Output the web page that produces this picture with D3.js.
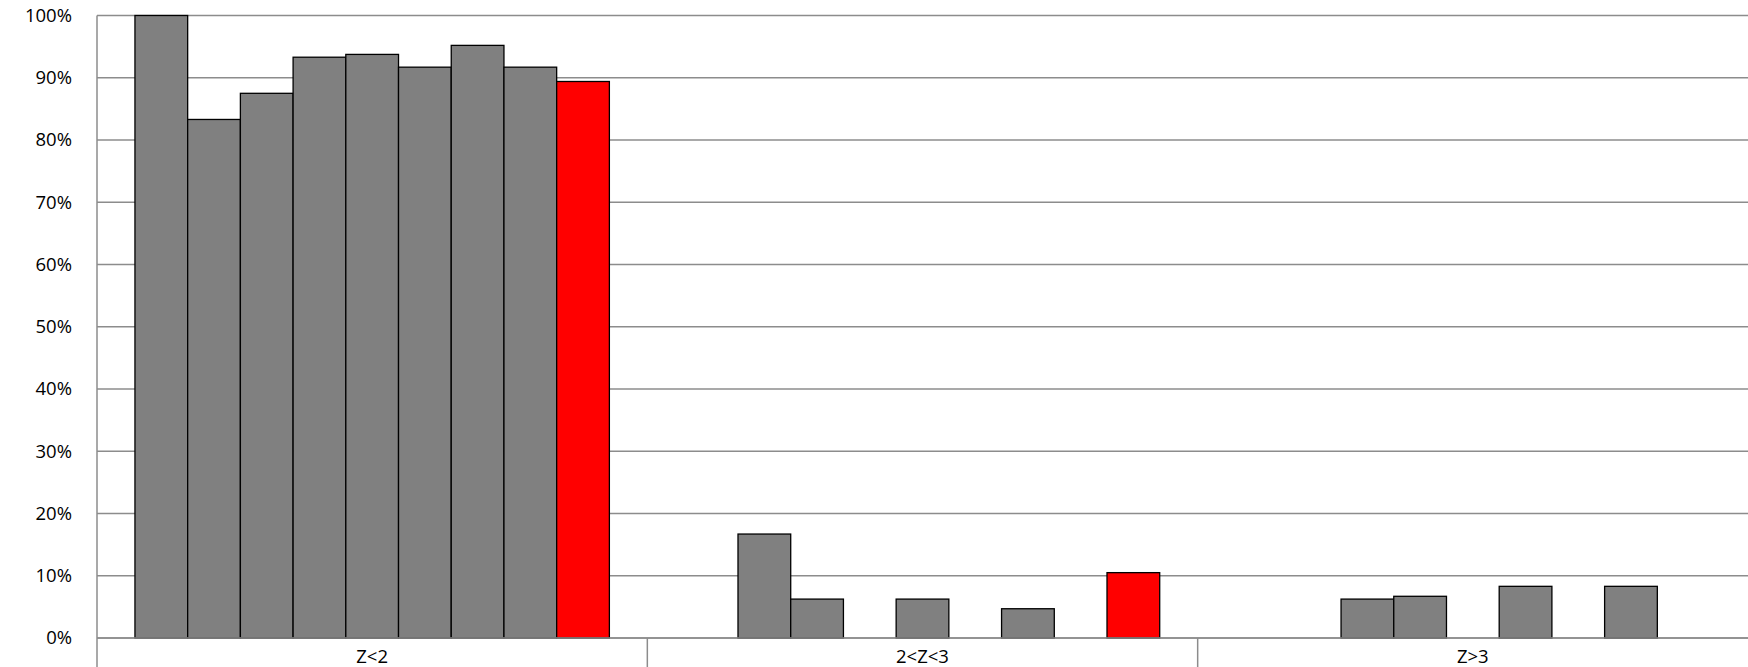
<!DOCTYPE html>
<html><head><meta charset="utf-8">
<script src="https://cdn.jsdelivr.net/npm/d3@7"></script>
<style>body{margin:0;background:#fff}</style></head>
<body><svg id="c" width="1748" height="667"></svg>
<script>
const categories = ["Z<2", "2<Z<3", "Z>3"];
const seriesNames = ["S1","S2","S3","S4","S5","S6","S7","S8","S9"];
const seriesColors = ["#808080","#808080","#808080","#808080","#808080","#808080","#808080","#808080","#ff0000"];
// values[category][series] in %
const valuesZlt2 = [100, 83.3, 87.5, 93.3, 93.75, 91.7, 95.2, 91.7, 89.4];
const valuesZ23  = [0, 16.7, 6.25, 0, 6.25, 0, 4.7, 0, 10.5];
const valuesZgt3 = [0, 0, 6.25, 6.7, 0, 8.3, 0, 8.3, 0];
const yTicks = [0,10,20,30,40,50,60,70,80,90,100];

const values = [valuesZlt2, valuesZ23, valuesZgt3];
const svg = d3.select("#c");
const L = 97, R = 1748, T = 15.5, B = 638;
const x0 = d3.scaleBand().domain(categories).range([L, R]).paddingInner(0).paddingOuter(0);
const x1 = d3.scaleBand().domain(seriesNames).range([0, x0.bandwidth()]).paddingOuter(0.72).paddingInner(0);
const y = d3.scaleLinear().domain([0,100]).range([B, T]);

svg.append("g").selectAll("line").data(yTicks).join("line")
  .attr("x1", L).attr("x2", R).attr("y1", d=>y(d)).attr("y2", d=>y(d))
  .attr("stroke", "#8c8c8c").attr("stroke-width", 1.5);

const g = svg.append("g");
categories.forEach((c, ci) => {
  g.selectAll(null).data(values[ci].map((v,i)=>({v,i}))).join("rect")
    .filter(d => d.v > 0)
    .attr("x", d => x0(c) + x1(seriesNames[d.i]))
    .attr("width", x1.bandwidth())
    .attr("y", d => y(d.v))
    .attr("height", d => B - y(d.v))
    .attr("fill", d => seriesColors[d.i])
    .attr("stroke", "#000").attr("stroke-width", 1.3);
});

const ya = svg.append("g").attr("transform", `translate(${L},0)`)
  .call(d3.axisLeft(y).tickValues(yTicks).tickFormat(d=>d+"%").tickSize(0).tickPadding(25));
ya.select(".domain").remove();
ya.selectAll("text").attr("font-family","'Open Sans', sans-serif").attr("font-size",18.5).attr("fill","#000");
svg.append("line").attr("x1",L).attr("x2",L).attr("y1",T).attr("y2",667).attr("stroke","#8c8c8c").attr("stroke-width",1.5);

svg.append("line").attr("x1",L).attr("x2",R).attr("y1",B).attr("y2",B).attr("stroke","#8c8c8c").attr("stroke-width",1.5);
svg.append("g").selectAll("line").data(categories.slice(1)).join("line")
  .attr("x1", d=>x0(d)).attr("x2", d=>x0(d)).attr("y1", B).attr("y2", 667)
  .attr("stroke","#8c8c8c").attr("stroke-width",1.5);
svg.append("g").selectAll("text").data(categories).join("text")
  .attr("x", d=>x0(d)+x0.bandwidth()/2).attr("y", 663)
  .attr("text-anchor","middle").attr("font-family","'Open Sans', sans-serif").attr("font-size",18.5)
  .text(d=>d);
</script></body></html>
